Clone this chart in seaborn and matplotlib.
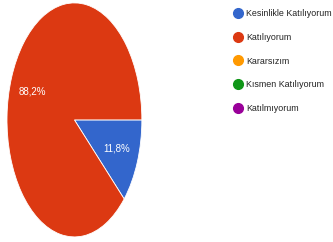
import matplotlib
matplotlib.use("Agg")
import matplotlib.pyplot as plt
from matplotlib.lines import Line2D
import seaborn as sns

categories = ["Kesinlikle Katılıyorum", "Katılıyorum", "Kararsızım",
              "Kısmen Katılıyorum", "Katılmıyorum"]
values = [11.8, 88.2, 0.0, 0.0, 0.0]

sns.set_theme(style="white")
plt.rcParams["font.family"] = ["Liberation Sans", "DejaVu Sans"]

colors = sns.color_palette(["#3366cc", "#dc3912", "#ff9900", "#109618", "#990099"])

fig = plt.figure(figsize=(3.33, 2.42), dpi=100)
# pie is drawn squashed horizontally, like the reference
ax = fig.add_axes([0.021, 0.021, 0.405, 0.967])

shown = [v for v in values if v > 0]
ax.pie(shown, colors=colors[:len(shown)], startangle=0, counterclock=False,
       autopct=lambda p: f"{p:.1f}%".replace(".", ","), pctdistance=0.67,
       radius=1.0,
       wedgeprops=dict(edgecolor="white", linewidth=0.6),
       textprops=dict(color="white", fontsize=7))
ax.set_aspect("auto")
ax.set_xlim(-1, 1)
ax.set_ylim(-1, 1)

handles = [Line2D([0], [0], marker="o", linestyle="", markersize=7,
                  markerfacecolor=c, markeredgecolor=c) for c in colors]
fig.legend(handles, categories, loc="upper left", bbox_to_anchor=(0.676, 0.995),
           frameon=False, fontsize=6.4, labelcolor="#222222",
           handletextpad=0.5, labelspacing=1.65, handlelength=1.0)

fig.savefig("out.png", dpi=100)
